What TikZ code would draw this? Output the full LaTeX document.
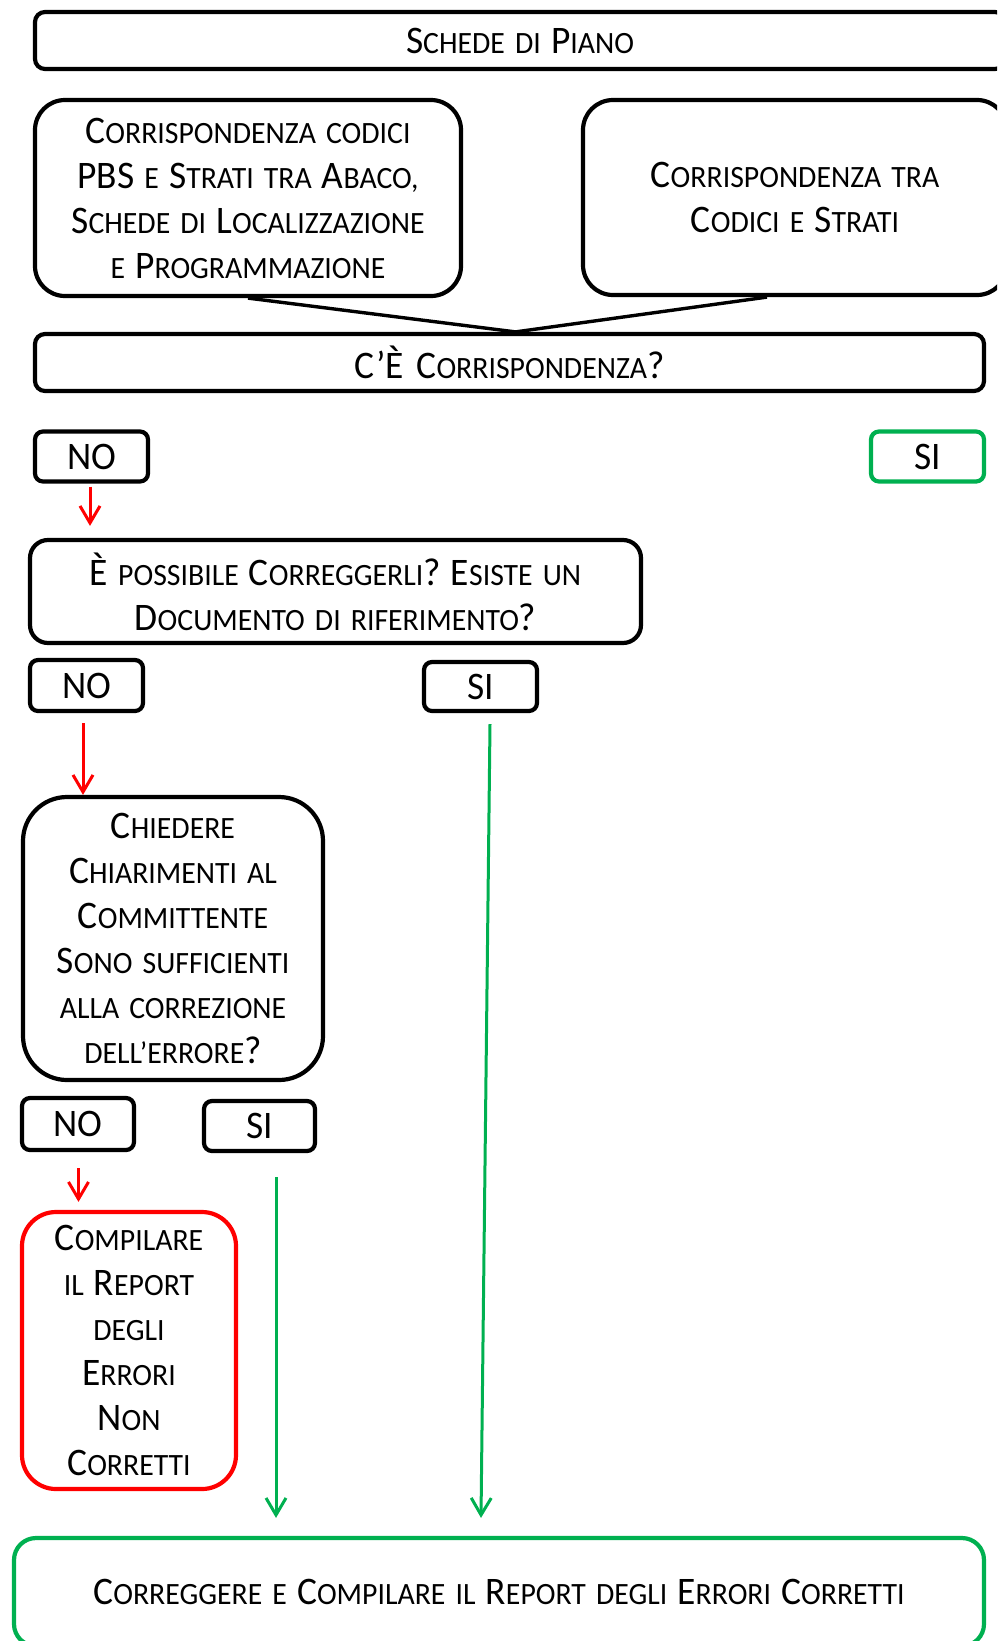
\documentclass[tikz,border=0pt]{standalone}
\usepackage{fontspec}
\setmainfont{Carlito}[FakeStretch=0.96,WordSpace=1.5]
\usetikzlibrary{arrows.meta,calc}
\definecolor{okgreen}{RGB}{0,176,80}
\definecolor{nored}{RGB}{255,0,0}
% capital letters of the hand-made small caps
\newcommand\Kp[1]{{\fontsize{39pt}{45pt}\selectfont #1}}
\begin{document}
\begin{tikzpicture}[x=1pt,y=-1pt,
  box/.style={draw=black,line width=4.2pt,rounded corners=#1,inner sep=0pt,
    align=center,font=\fontsize{31pt}{45pt}\selectfont},
  box/.default=28pt,
  okbox/.style={box=#1,draw=okgreen},
  okbox/.default=22pt,
  nobox/.style={box=#1,draw=nored},
  nobox/.default=34pt,
  tag/.style={box=8pt,minimum width=113pt,minimum height=50pt},
  tip/.style={-{Straight Barb[length=17pt,width=20pt,line width=3pt]}},
  redarrow/.style={draw=nored,line width=3pt,tip},
  greenarrow/.style={draw=okgreen,line width=3pt,tip},
  link/.style={draw=black,line width=3.4pt}]
\useasboundingbox (0,0) rectangle (997,1641);
\clip (0,0) rectangle (997,1641);

% header and the two correspondence checks
\node[box=10pt,minimum width=970pt,minimum height=57pt] (schede) at (520,40.5)
  {\Kp{S}CHEDE DI \Kp{P}IANO};
\node[box=30pt,minimum width=426pt,minimum height=196pt] (left) at (248,198)
  {\Kp{C}ORRISPONDENZA CODICI\\ \Kp{PBS} E \Kp{S}TRATI TRA \Kp{A}BACO,\\
   \Kp{S}CHEDE DI \Kp{L}OCALIZZAZIONE\\ E \Kp{P}ROGRAMMAZIONE};
\node[box=30pt,minimum width=424pt,minimum height=195pt] (right) at (795,197.5)
  {\Kp{C}ORRISPONDENZA TRA\\ \Kp{C}ODICI E \Kp{S}TRATI};
\node[box=10pt,minimum width=949pt,minimum height=57pt] (corr) at (509.5,362.5)
  {\Kp{C’È C}ORRISPONDENZA\Kp{?}};
\coordinate (meet) at ($(corr.north)+(6,0)$);
\coordinate (rfoot) at ($(right.south)+(-28,0)$);
\draw[link] (left.south) -- (meet) -- (rfoot);

% first answer
\node[tag] (no1) at (91.5,456.5) {\Kp{NO}};
\node[tag,draw=okgreen] (si1) at (927.5,456.5) {\Kp{SI}};

\node[box=18pt,minimum width=611pt,minimum height=103pt] (poss) at (335.5,591.5)
  {\Kp{È} POSSIBILE \Kp{C}ORREGGERLI\Kp{?} \Kp{E}SISTE UN\\
   \Kp{D}OCUMENTO DI RIFERIMENTO\Kp{?}};
\coordinate (a1s) at ($(no1.south)+(-1.5,3)$);
\coordinate (a1e) at (a1s |- {$(poss.north)+(0,-12)$});
\draw[redarrow] (a1s) -- (a1e);

% second answer
\node[tag,minimum height=51pt] (no2) at (86.5,685.5) {\Kp{NO}};
\node[tag,minimum height=49pt] (si2) at (480.5,686.5) {\Kp{SI}};

\node[box=44pt,minimum width=300pt,minimum height=283pt] (ask) at (173,938.5)
  {\Kp{C}HIEDERE\\ \Kp{C}HIARIMENTI AL\\ \Kp{C}OMMITTENTE\\ \Kp{S}ONO SUFFICIENTI\\
   ALLA CORREZIONE\\ DELL’ERRORE\Kp{?}};
\coordinate (a2s) at ($(no2.south)+(-3.5,10)$);
\coordinate (a2e) at (a2s |- ask.north);
\draw[redarrow] (a2s) -- (a2e);

% third answer
\node[tag,minimum width=112pt,minimum height=52pt] (no3) at (78,1124) {\Kp{NO}};
\node[tag,minimum width=111pt,minimum height=50pt] (si3) at (259.5,1126) {\Kp{SI}};

\node[nobox=34pt,minimum width=214pt,minimum height=277pt] (report) at (129,1350.5)
  {\Kp{C}OMPILARE\\ IL \Kp{R}EPORT\\ DEGLI\\ \Kp{E}RRORI\\ \Kp{N}ON\\ \Kp{C}ORRETTI};
\coordinate (a3s) at ($(no3.south)+(0.5,16)$);
\coordinate (a3e) at (a3s |- {$(report.north)+(0,-8)$});
\draw[redarrow] (a3s) -- (a3e);

% correction of the errors
\node[okbox=22pt,minimum width=970pt,minimum height=108pt] (fix) at (499,1592)
  {\Kp{C}ORREGGERE E \Kp{C}OMPILARE IL \Kp{R}EPORT DEGLI \Kp{E}RRORI \Kp{C}ORRETTI};
\coordinate (g1s) at ($(si2.south)+(9.5,11)$);
\coordinate (g1e) at ($(fix.north)+(-18,-18)$);
\draw[greenarrow] (g1s) -- (g1e);
\coordinate (g2s) at ($(si3.south)+(16.5,24)$);
\coordinate (g2e) at (g2s |- g1e);
\draw[greenarrow] (g2s) -- (g2e);
\end{tikzpicture}
\end{document}
